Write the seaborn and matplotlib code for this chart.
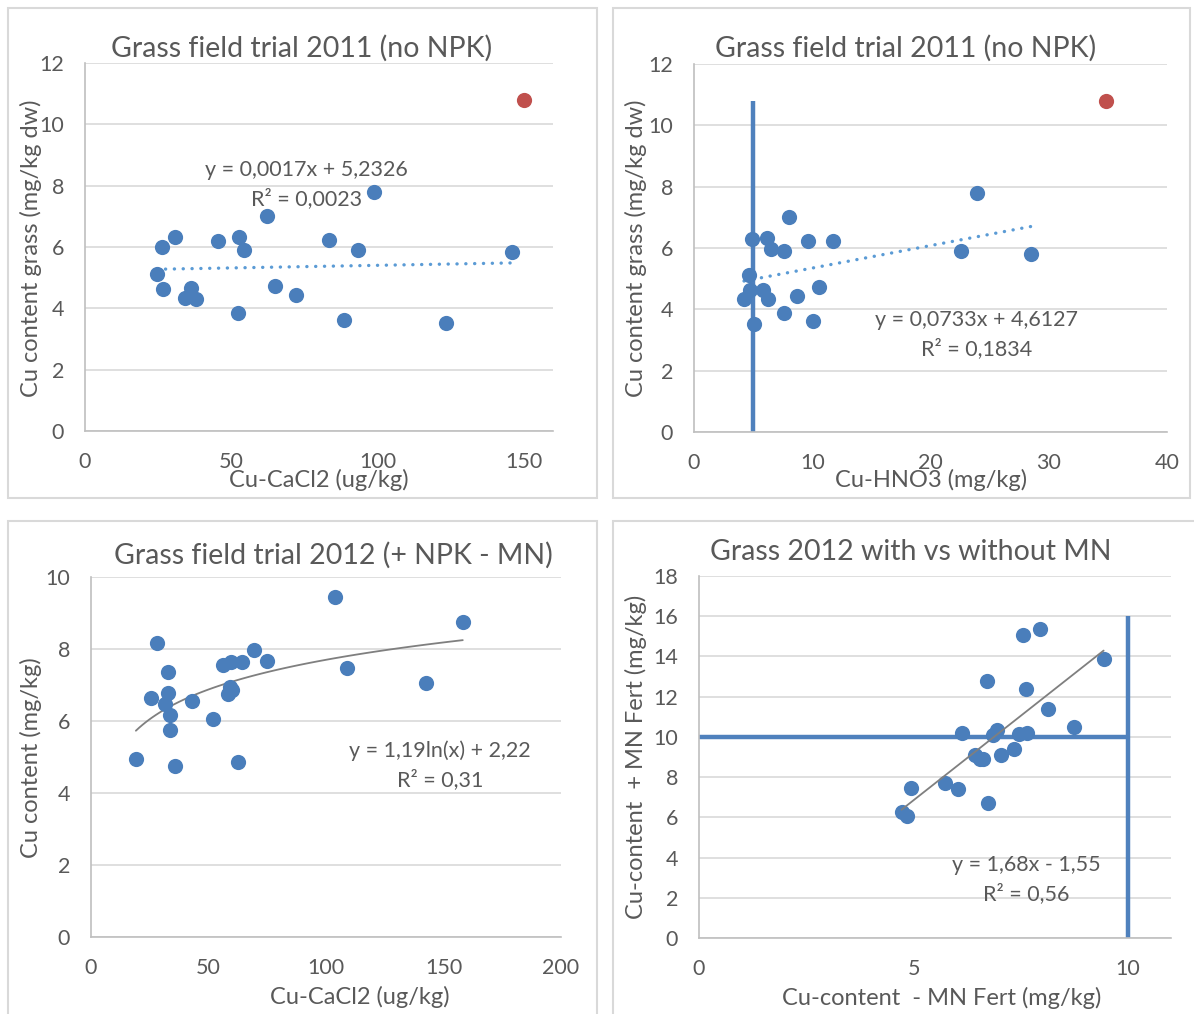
import numpy as np
import matplotlib
matplotlib.use("Agg")
import matplotlib.pyplot as plt
import seaborn as sns
from matplotlib.patches import Rectangle

sns.set_style("white")
plt.rcParams["font.family"] = ["Lato", "DejaVu Sans"]

# ---- data ----
# panel 1: Cu-CaCl2 vs Cu in grass, 2011
cacl2_2011 = [26.2, 30.9, 24.5, 26.5, 36.1, 34.2, 37.9, 45.4, 52.7, 54.4,
              62.1, 52.2, 65.1, 72.1, 83.4, 93.5, 98.7, 88.7, 123.4, 146.1]
cu_grass_2011 = [6.01, 6.32, 5.11, 4.62, 4.65, 4.33, 4.30, 6.21, 6.32, 5.91,
                 7.02, 3.86, 4.72, 4.42, 6.22, 5.91, 7.80, 3.61, 3.53, 5.83]
outlier_cacl2 = [150.0]
outlier_cu = [10.8]

# panel 2: Cu-HNO3 vs Cu in grass, 2011
hno3_2011 = [4.90, 6.14, 6.50, 7.63, 8.00, 9.66, 11.78, 4.67, 4.73, 5.86,
             4.23, 6.23, 8.68, 10.6, 7.63, 10.06, 5.07, 23.9, 22.6, 28.5]
cu_grass_2011b = [6.29, 6.32, 5.98, 5.90, 7.01, 6.22, 6.22, 5.13, 4.63, 4.63,
                  4.33, 4.33, 4.42, 4.72, 3.87, 3.63, 3.53, 7.80, 5.91, 5.80]
outlier_hno3 = [34.8]
hno3_limit = 5.0

# panel 3: Cu-CaCl2 vs Cu content, 2012
cacl2_2012 = [28.2, 32.9, 25.5, 32.9, 31.5, 33.6, 33.6, 19.1, 35.9, 42.8,
              52.0, 56.0, 59.6, 64.4, 69.5, 75.1, 59.1, 59.9, 58.4, 62.5,
              103.8, 109.1, 142.6, 158.2]
cu_2012 = [8.16, 7.36, 6.65, 6.77, 6.46, 6.16, 5.75, 4.95, 4.76, 6.56,
           6.06, 7.55, 7.65, 7.65, 7.96, 7.66, 6.95, 6.86, 6.75, 4.86,
           9.45, 7.46, 7.05, 8.75]

# panel 4: without vs with MN fertiliser
cu_minus_mn = [7.54, 7.94, 9.43, 6.72, 7.63, 8.13, 8.73, 6.14, 6.94, 6.85,
               7.45, 7.64, 7.33, 7.03, 6.44, 6.62, 6.54, 4.93, 5.74, 6.03,
               6.74, 4.72, 4.84]
cu_plus_mn = [15.07, 15.37, 13.86, 12.79, 12.40, 11.39, 10.50, 10.20, 10.35, 10.10,
              10.13, 10.18, 9.40, 9.10, 9.09, 8.89, 8.89, 7.48, 7.71, 7.40,
              6.72, 6.25, 6.07]
mn_limit = 10.0
mn_limit_top = 16.0

# trend line coefficients as printed in the chart
fit1 = (0.0017, 5.2326)
fit2 = (0.0733, 4.6127)
fit3 = (1.19, 2.22)
fit4 = (1.68, -1.55)

BLUE = "#4A7EBB"
RED = "#C0504D"
LINE_BLUE = "#4F81BD"
DOT_BLUE = "#5B9BD5"
TXT = "#595959"
GRID = "#D9D9D9"

W, H = 1194, 1014
fig = plt.figure(figsize=(W / 100, H / 100), dpi=100)


def px_axes(left, top, right, bottom):
    return fig.add_axes([left / W, 1 - bottom / H, (right - left) / W, (bottom - top) / H])


# panel frames
for (x0, y0, x1, y1) in [(8, 8, 597, 498), (613, 8, 1190, 498),
                         (8, 521, 597, 1020), (613, 521, 1200, 1020)]:
    fig.patches.append(Rectangle((x0 / W, 1 - y1 / H), (x1 - x0) / W, (y1 - y0) / H,
                                 transform=fig.transFigure, fill=False,
                                 edgecolor=GRID, lw=1.5))


def style(ax, xlim, ylim, xticks, yticks):
    ax.set_xlim(*xlim)
    ax.set_ylim(*ylim)
    ax.set_xticks(xticks)
    ax.set_yticks(yticks)
    ax.yaxis.grid(True, color=GRID, lw=1.2)
    ax.xaxis.grid(False)
    ax.set_axisbelow(True)
    for s in ["top", "right"]:
        ax.spines[s].set_visible(False)
    for s in ["left", "bottom"]:
        ax.spines[s].set_color("#BFBFBF")
        ax.spines[s].set_linewidth(1.2)
    ax.tick_params(axis="both", length=0, labelsize=15.5, colors=TXT, pad=15)
    ax.set_facecolor("white")


def labels(ax, title, tpos, xlab, xpos, ylab, ypos):
    ax.text(tpos[0], tpos[1], title, transform=ax.transAxes, ha="center",
            va="center", fontsize=20.5, color=TXT)
    ax.set_xlabel(xlab, fontsize=17, color=TXT, va="center")
    ax.xaxis.set_label_coords(*xpos)
    ax.set_ylabel(ylab, fontsize=17, color=TXT, va="center")
    ax.yaxis.set_label_coords(*ypos)


def eq(ax, x, y, txt):
    ax.text(x, y, txt, transform=ax.transAxes, ha="center", va="center",
            fontsize=15.5, color=TXT, linespacing=1.5)


# ---------- panel 1 ----------
ax1 = px_axes(85, 63, 553, 431)
style(ax1, (0, 160), (0, 12), [0, 50, 100, 150], range(0, 13, 2))
xs = np.linspace(min(cacl2_2011), max(cacl2_2011), 50)
ax1.plot(xs, fit1[0] * xs + fit1[1], color=DOT_BLUE, lw=2.4,
         linestyle=(0, (0.05, 2.6)), dash_capstyle="round")
sns.scatterplot(x=cacl2_2011, y=cu_grass_2011, ax=ax1, color=BLUE, s=120,
                linewidth=0, zorder=3)
sns.scatterplot(x=outlier_cacl2, y=outlier_cu, ax=ax1, color=RED, s=120,
                linewidth=0, zorder=3, clip_on=False)
labels(ax1, "Grass field trial 2011 (no NPK)", (0.462, 1.041),
       "Cu-CaCl2 (ug/kg)", (0.5, -0.133),
       "Cu content grass (mg/kg dw)", (-0.115, 0.497))
eq(ax1, 0.474, 0.67, "y = 0,0017x + 5,2326\nR² = 0,0023")

# ---------- panel 2 ----------
ax2 = px_axes(694, 64, 1167, 432)
style(ax2, (0, 40), (0, 12), [0, 10, 20, 30, 40], range(0, 13, 2))
ax2.vlines(hno3_limit, 0, outlier_cu[0], color=LINE_BLUE, lw=3.2, zorder=2)
xs = np.linspace(min(hno3_2011), max(hno3_2011), 50)
ax2.plot(xs, fit2[0] * xs + fit2[1], color=DOT_BLUE, lw=2.4,
         linestyle=(0, (0.05, 2.6)), dash_capstyle="round")
sns.scatterplot(x=hno3_2011, y=cu_grass_2011b, ax=ax2, color=BLUE, s=120,
                linewidth=0, zorder=3)
sns.scatterplot(x=outlier_hno3, y=outlier_cu, ax=ax2, color=RED, s=120,
                linewidth=0, zorder=3)
labels(ax2, "Grass field trial 2011 (no NPK)", (0.448, 1.043),
       "Cu-HNO3 (mg/kg)", (0.501, -0.130),
       "Cu content grass (mg/kg dw)", (-0.123, 0.5))
eq(ax2, 0.598, 0.264, "y = 0,0733x + 4,6127\nR² = 0,1834")

# ---------- panel 3 ----------
ax3 = px_axes(91, 577, 561, 937)
style(ax3, (0, 200), (0, 10), [0, 50, 100, 150, 200], range(0, 11, 2))
xs = np.linspace(min(cacl2_2012), max(cacl2_2012), 100)
ax3.plot(xs, fit3[0] * np.log(xs) + fit3[1], color="#7F7F7F", lw=1.3)
sns.scatterplot(x=cacl2_2012, y=cu_2012, ax=ax3, color=BLUE, s=120,
                linewidth=0, zorder=3)
labels(ax3, "Grass field trial 2012 (+ NPK - MN)", (0.515, 1.061),
       "Cu-CaCl2 (ug/kg)", (0.572, -0.167),
       "Cu content (mg/kg)", (-0.128, 0.497))
eq(ax3, 0.742, 0.478, "y = 1,19ln(x) + 2,22\nR² = 0,31")

# ---------- panel 4 ----------
ax4 = px_axes(699, 576, 1171, 938)
style(ax4, (0, 11), (0, 18), [0, 5, 10], range(0, 19, 2))
ax4.hlines(mn_limit, 0, mn_limit, color=LINE_BLUE, lw=3.2, zorder=2)
ax4.vlines(mn_limit, 0, mn_limit_top, color=LINE_BLUE, lw=3.2, zorder=2)
xs = np.linspace(min(cu_minus_mn), max(cu_minus_mn), 50)
ax4.plot(xs, fit4[0] * xs + fit4[1], color="#7F7F7F", lw=1.3, zorder=4)
sns.scatterplot(x=cu_minus_mn, y=cu_plus_mn, ax=ax4, color=BLUE, s=120,
                linewidth=0, zorder=3)
labels(ax4, "Grass 2012 with vs without MN", (0.449, 1.066),
       "Cu-content  - MN Fert (mg/kg)", (0.515, -0.166),
       "Cu-content  + MN Fert (mg/kg)", (-0.133, 0.5))
eq(ax4, 0.693, 0.162, "y = 1,68x - 1,55\nR² = 0,56")

fig.savefig("out.png", dpi=100, facecolor="white")
